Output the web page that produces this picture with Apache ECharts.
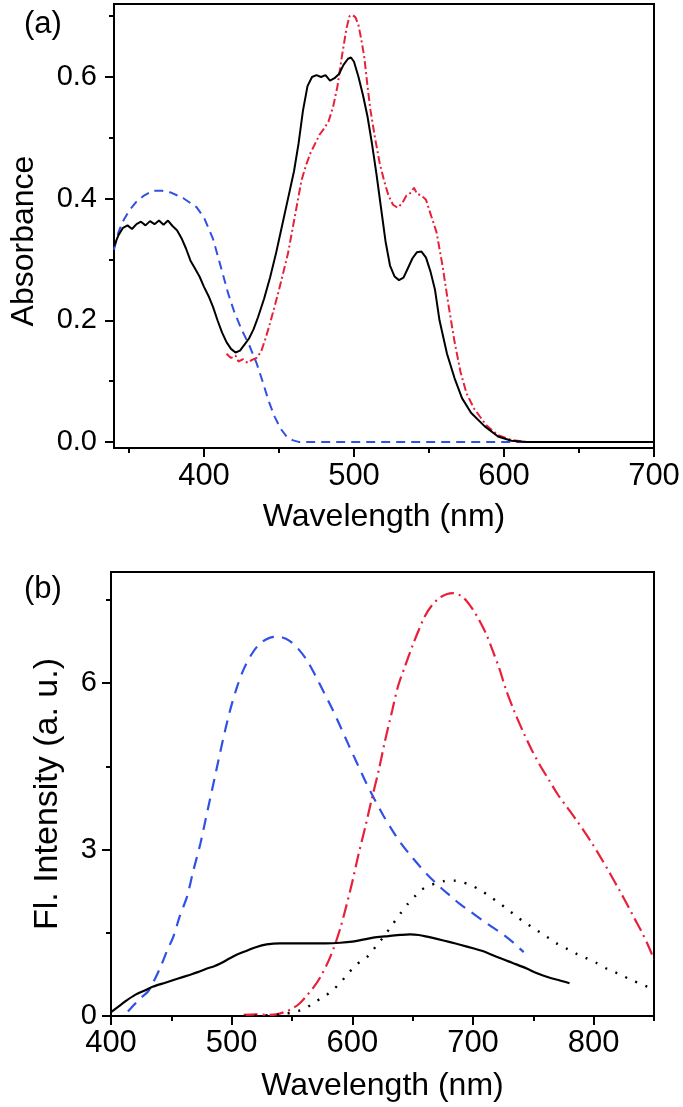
<!DOCTYPE html>
<html>
<head>
<meta charset="utf-8">
<script src="https://cdn.jsdelivr.net/npm/echarts@6/dist/echarts.min.js"></script>
<style>
html,body{margin:0;padding:0;background:#fff;}
#chart{width:683px;height:1107px;}
</style>
</head>
<body>
<div id="chart"></div>
<script>
// ---------- Panel (a): absorbance ----------
const absBlackX = [340,343,346,349,352,355,358,361,364,367,370,373,376,379,382,385,388,391,394,397,400,403,406,409,412,415,418,421,424,427,430,433,436,440,444,448,452,456,460,463,466,469,472,475,478,481,484,487,490,493,496,498,500,503,506,509,512,515,518,521,524,527,530,533,536,539,542,545,548,551,554,557,562,567,572,578,587,596,605,615,700];
const absBlackY = [0.322,0.34,0.352,0.356,0.35,0.358,0.362,0.356,0.363,0.358,0.364,0.357,0.364,0.355,0.348,0.335,0.318,0.298,0.285,0.272,0.255,0.24,0.222,0.2,0.18,0.164,0.153,0.147,0.15,0.16,0.17,0.185,0.205,0.235,0.27,0.31,0.355,0.4,0.445,0.49,0.545,0.585,0.6,0.603,0.6,0.603,0.594,0.598,0.605,0.62,0.63,0.632,0.625,0.6,0.57,0.535,0.49,0.44,0.385,0.33,0.29,0.272,0.266,0.27,0.286,0.302,0.312,0.313,0.303,0.28,0.25,0.2,0.145,0.105,0.072,0.048,0.026,0.009,0.002,0,0];

const absRedX = [415,418,421,423,426,429,432,435,438,441,444,447,450,453,456,459,462,465,468,471,474,477,480,483,486,489,492,495,497,499,501,503,505,507,509,511,514,517,520,523,526,529,532,535,538,540,542,545,548,551,555,559,563,567,571,575,580,588,596,605,615,700];
const absRedY = [0.145,0.138,0.142,0.132,0.136,0.13,0.135,0.138,0.148,0.17,0.195,0.222,0.25,0.28,0.31,0.35,0.39,0.43,0.455,0.475,0.49,0.505,0.515,0.527,0.55,0.585,0.635,0.68,0.7,0.702,0.698,0.685,0.66,0.63,0.585,0.545,0.5,0.46,0.43,0.405,0.39,0.385,0.392,0.405,0.41,0.418,0.408,0.405,0.398,0.375,0.345,0.29,0.225,0.165,0.115,0.08,0.055,0.028,0.011,0.003,0,0];

const absBlueX = [340,343,346,350,355,360,366,372,378,386,395,400,406,412,416,420,425,430,435,439,443,447,451,455,459,463,700];
const absBlueY = [0.316,0.345,0.363,0.38,0.395,0.405,0.413,0.413,0.41,0.401,0.386,0.369,0.334,0.281,0.245,0.215,0.185,0.16,0.13,0.1,0.068,0.042,0.022,0.009,0.003,0,0];

const xMajorA = [400,500,600,700];
const xMinorA = [350,450,550,650];
const yMajorA = [0,0.2,0.4,0.6];
const yMinorA = [0.1,0.3,0.5,0.7];

// ---------- Panel (b): fluorescence ----------
const flBlackX = [400,405,413,420,428,435,445,455,465,472,479,486,491,496,502,507,513,520,529,540,553,565,578,590,600,610,620,630,640,648,655,662,670,681,690,700,708,716,724,730,736,745,752,758,765,772,780];
const flBlackY = [0.07,0.15,0.28,0.38,0.46,0.53,0.6,0.67,0.74,0.79,0.85,0.9,0.95,1.01,1.08,1.13,1.18,1.24,1.29,1.31,1.31,1.31,1.31,1.32,1.34,1.38,1.42,1.44,1.46,1.47,1.46,1.43,1.39,1.33,1.28,1.22,1.17,1.1,1.03,0.98,0.93,0.85,0.78,0.73,0.68,0.64,0.59];

const flBlueX = [414,420,425,431,436,441,446,452,457,463,468,474,480,486,492,498,504,510,516,522,528,535,542,548,555,562,569,576,583,590,597,604,611,618,626,633,640,648,655,662,669,675,682,689,698,708,716,725,733,742];
const flBlueY = [0.08,0.22,0.33,0.45,0.65,0.88,1.15,1.45,1.8,2.15,2.6,3.1,3.7,4.3,4.9,5.45,5.9,6.25,6.5,6.68,6.78,6.83,6.82,6.76,6.62,6.42,6.15,5.85,5.55,5.22,4.88,4.55,4.22,3.92,3.6,3.35,3.12,2.9,2.72,2.55,2.4,2.28,2.15,2.02,1.88,1.72,1.6,1.47,1.33,1.15];

const flRedX = [510,520,530,537,545,550,556,562,568,574,580,585,590,595,600,605,611,616,622,627,633,638,644,650,655,660,666,672,678,684,690,695,700,705,711,716,722,727,734,742,749,756,763,770,778,785,792,799,806,814,821,828,834,839,845,850];
const flRedY = [0.02,0.03,0.02,0.03,0.08,0.13,0.22,0.36,0.52,0.72,0.98,1.25,1.58,1.98,2.42,2.9,3.43,3.9,4.44,4.95,5.5,5.95,6.32,6.68,6.95,7.2,7.4,7.53,7.6,7.62,7.57,7.47,7.32,7.14,6.88,6.6,6.25,5.9,5.5,5.1,4.78,4.5,4.25,4.0,3.76,3.55,3.33,3.1,2.85,2.55,2.28,2.0,1.75,1.55,1.28,1.02];

const flDotX = [510,525,540,554,562,568,575,583,590,596,602,608,614,620,626,633,640,646,652,657,663,669,676,684,691,698,706,713,720,727,734,742,749,756,763,770,778,785,793,802,812,821,830,840,850];
const flDotY = [0,0.01,0.03,0.08,0.15,0.24,0.33,0.45,0.6,0.75,0.9,1.0,1.1,1.27,1.43,1.64,1.85,2.02,2.16,2.27,2.34,2.39,2.43,2.44,2.41,2.36,2.27,2.17,2.06,1.95,1.83,1.7,1.6,1.5,1.4,1.3,1.21,1.13,1.05,0.96,0.84,0.76,0.66,0.57,0.48];

const xMajorB = [400,500,600,700,800];
const xMinorB = [450,550,650,750,850];
const yMajorB = [0,3,6];
const yMinorB = [1.5,4.5,7.5];

// ---------- build ----------
const zip = (xs, ys) => xs.map((x, i) => [x, ys[i]]);
const FONT = '"Liberation Sans", Arial, sans-serif';
const BLUE = '#3050E6';
const RED = '#E8203A';

function majorAxis(grid, min, max, ticks, opts) {
  return Object.assign({
    type: 'value', gridIndex: grid, min: min, max: max,
    axisLine: { show: true, onZero: false, lineStyle: { color: '#000', width: 2 } },
    axisTick: { show: true, inside: false, customValues: ticks, length: 9, lineStyle: { color: '#000', width: 2 } },
    axisLabel: { show: true, customValues: ticks, color: '#000', fontSize: 30, fontFamily: FONT },
    splitLine: { show: false },
    nameTextStyle: { color: '#000', fontSize: 32, fontFamily: FONT }
  }, opts);
}
function minorAxis(grid, min, max, ticks, pos) {
  return {
    type: 'value', gridIndex: grid, min: min, max: max, position: pos,
    axisLine: { show: false, onZero: false },
    axisTick: { show: true, inside: false, customValues: ticks, length: 5, lineStyle: { color: '#000', width: 2 } },
    axisLabel: { show: false },
    splitLine: { show: false }
  };
}

const option = {
  animation: false,
  backgroundColor: '#fff',
  title: [
    { text: '(a)', left: 19, top: 4, textStyle: { fontSize: 31, fontWeight: 'normal', color: '#000', fontFamily: FONT } },
    { text: '(b)', left: 19, top: 569, textStyle: { fontSize: 31, fontWeight: 'normal', color: '#000', fontFamily: FONT } }
  ],
  grid: [
    { left: 108, top: 4, width: 546, height: 444, show: true, borderColor: '#000', borderWidth: 2, backgroundColor: 'transparent' },
    { left: 111, top: 572, width: 543, height: 444, show: true, borderColor: '#000', borderWidth: 2, backgroundColor: 'transparent' }
  ],
  xAxis: [
    majorAxis(0, 340, 700, xMajorA, { position: 'bottom', name: 'Wavelength (nm)', nameLocation: 'middle', nameGap: 53,
      axisLabel: { show: true, customValues: xMajorA, color: '#000', fontSize: 31, fontFamily: FONT, margin: 13 } }),
    minorAxis(0, 340, 700, xMinorA, 'bottom'),
    majorAxis(1, 400, 850, xMajorB, { position: 'bottom', name: 'Wavelength (nm)', nameLocation: 'middle', nameGap: 54,
      axisLabel: { show: true, customValues: xMajorB, color: '#000', fontSize: 31, fontFamily: FONT, margin: 12 } }),
    minorAxis(1, 400, 850, xMinorB, 'bottom')
  ],
  yAxis: [
    majorAxis(0, -0.01, 0.72, yMajorA, { position: 'left', name: 'Absorbance', nameLocation: 'middle', nameGap: 74,
      nameTextStyle: { color: '#000', fontSize: 32, fontFamily: FONT, padding: [0, 30, 0, 0] },
      axisLabel: { show: true, customValues: yMajorA, color: '#000', fontSize: 29, fontFamily: FONT, margin: 17,
        formatter: v => Number(v).toFixed(1) } }),
    minorAxis(0, -0.01, 0.72, yMinorA, 'left'),
    majorAxis(1, 0, 8, yMajorB, { position: 'left', name: 'Fl. Intensity (a. u.)', nameLocation: 'middle', nameGap: 46,
      nameTextStyle: { color: '#000', fontSize: 34, fontFamily: FONT },
      axisLabel: { show: true, customValues: yMajorB, color: '#000', fontSize: 29, fontFamily: FONT, margin: 14 } }),
    minorAxis(1, 0, 8, yMinorB, 'left')
  ],
  series: [
    { type: 'line', xAxisIndex: 0, yAxisIndex: 0, data: zip(absBlueX, absBlueY), showSymbol: false, symbol: 'none',
      lineStyle: { color: BLUE, width: 2, type: [9, 6] } },
    { type: 'line', xAxisIndex: 0, yAxisIndex: 0, data: zip(absRedX, absRedY), showSymbol: false, symbol: 'none',
      lineStyle: { color: RED, width: 2, type: [8, 3, 2, 3] } },
    { type: 'line', xAxisIndex: 0, yAxisIndex: 0, data: zip(absBlackX, absBlackY), showSymbol: false, symbol: 'none',
      lineStyle: { color: '#000', width: 2, type: 'solid' } },

    { type: 'line', xAxisIndex: 2, yAxisIndex: 2, data: zip(flBlueX, flBlueY), showSymbol: false, symbol: 'none', smooth: 0.3,
      lineStyle: { color: BLUE, width: 2.2, type: [12, 8] } },
    { type: 'line', xAxisIndex: 2, yAxisIndex: 2, data: zip(flRedX, flRedY), showSymbol: false, symbol: 'none', smooth: 0.3,
      lineStyle: { color: RED, width: 2.2, type: [14, 5, 2, 5] } },
    { type: 'line', xAxisIndex: 2, yAxisIndex: 2, data: zip(flDotX, flDotY), showSymbol: false, symbol: 'none', smooth: 0.3,
      lineStyle: { color: '#000', width: 2.4, type: [2, 9] } },
    { type: 'line', xAxisIndex: 2, yAxisIndex: 2, data: zip(flBlackX, flBlackY), showSymbol: false, symbol: 'none', smooth: 0.3,
      lineStyle: { color: '#000', width: 2.2, type: 'solid' } }
  ]
};

const chart = echarts.init(document.getElementById('chart'), null, { renderer: 'canvas' });
chart.setOption(option);
</script>
</body>
</html>
